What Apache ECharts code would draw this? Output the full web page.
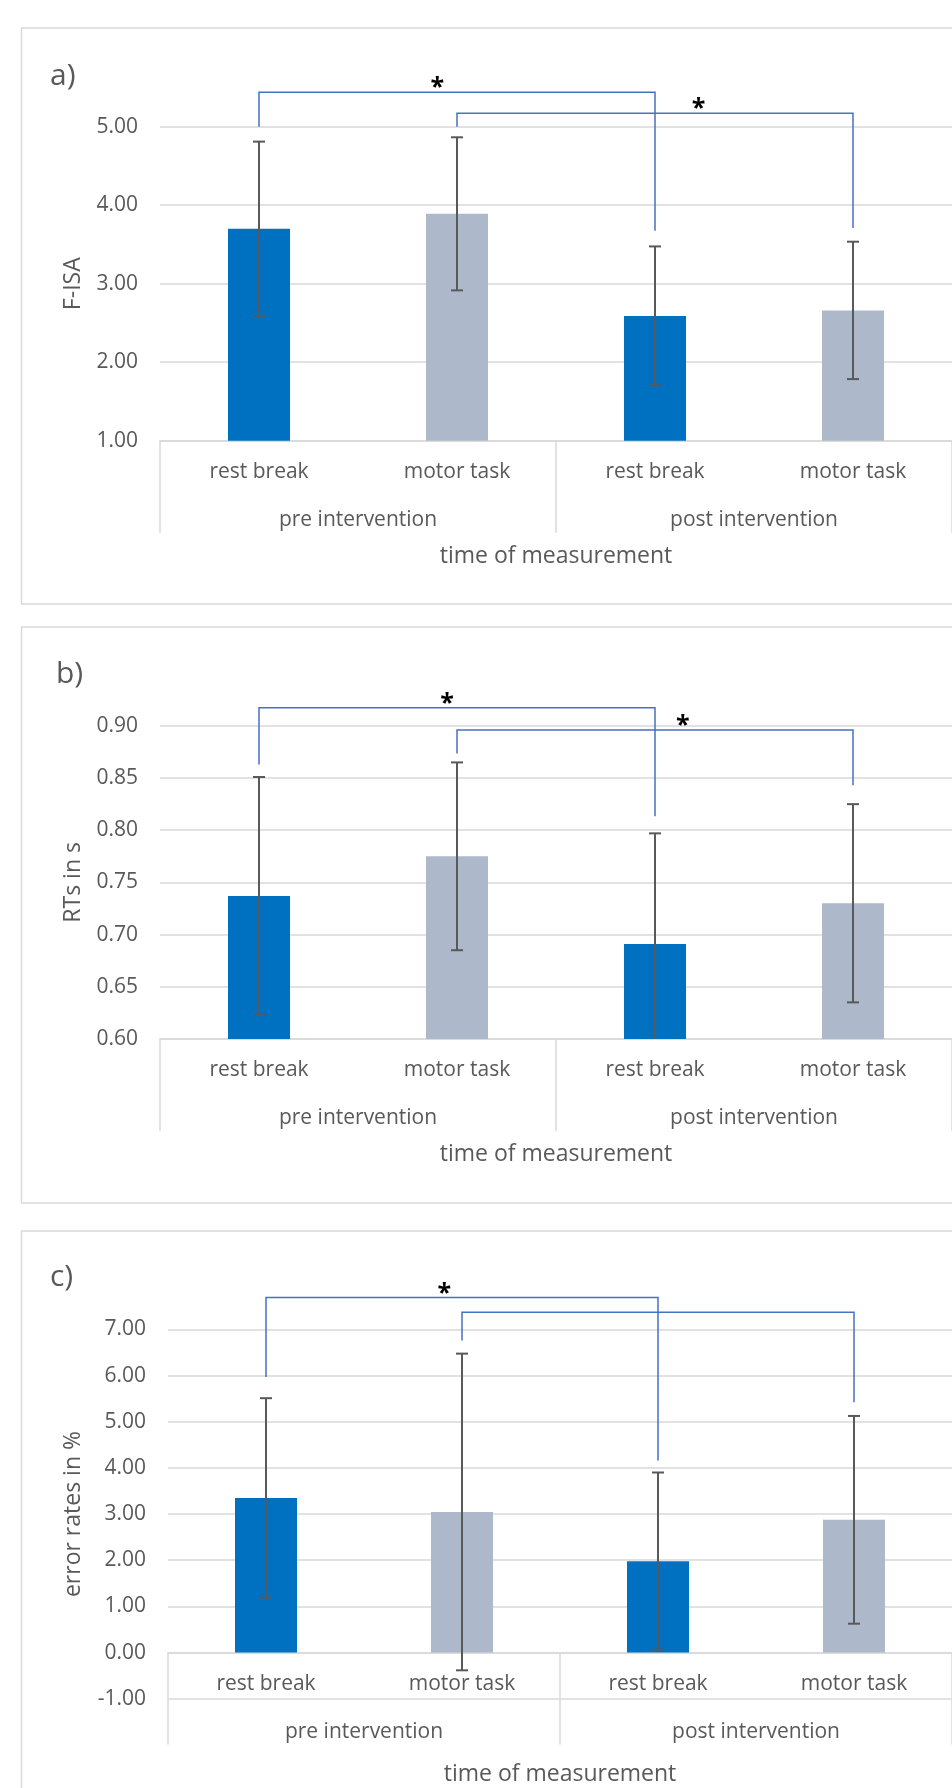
<!DOCTYPE html>
<html><head><meta charset="utf-8">
<script src="https://cdn.jsdelivr.net/npm/echarts@6/dist/echarts.min.js"></script>
<style>html,body{margin:0;padding:0;background:#fff}#c{width:952px;height:1788px}</style>
</head><body><div id="c"></div><script>
// ---- data ----
const categories = ['rest break', 'motor task', 'rest break', 'motor task'];
const groups = ['pre intervention', 'post intervention'];
const panelLabels = ['a)', 'b)', 'c)'];
const yTitles = ['F-ISA', 'RTs in s', 'error rates in %'];
const xTitle = 'time of measurement';

// a) F-ISA
const fisaMean = [3.70, 3.89, 2.59, 2.66];
const fisaSD = [1.11, 0.975, 0.885, 0.875];
const fisaTicks = [1, 5, 1];          // min, max, interval
// b) reaction times (s)
const rtMean = [0.737, 0.775, 0.691, 0.730];
const rtSD = [0.114, 0.090, 0.106, 0.095];
const rtTicks = [0.6, 0.9, 0.05];
// c) error rates (%)
const errMean = [3.35, 3.045, 1.98, 2.875];
const errSD = [2.16, 3.43, 1.92, 2.25];
const errTicks = [-1, 7, 1];

// significance brackets: [fromCat, toCat, bracketY, leftLegEnd, rightLegEnd, starCatPos, label]
const sigA = [[0, 2, 5.44, 5.0, 3.675, 0.9, '*'], [1, 3, 5.17, 5.0, 3.71, 2.22, '*']];
const sigB = [[0, 2, 0.9175, 0.863, 0.8135, 0.95, '*'], [1, 3, 0.896, 0.8735, 0.843, 2.14, '*']];
const sigC = [[0, 2, 7.69, 5.97, 4.16, 0.91, '*'], [1, 3, 7.37, 6.76, 5.42, 0, '']];

// ---- styles / layout ----
const FONT = 'Open Sans';
const TXT = '#595959';
const GRIDC = '#D9D9D9';
const barColors = ['#0070C0', '#ADB9CA', '#0070C0', '#ADB9CA'];
const panels = [
  {mean: fisaMean, sd: fisaSD, ticks: fisaTicks, sig: sigA, top: 126.7, height: 314, left: 160, box: [21.5, 28, 576], lab: [50, 60]},
  {mean: rtMean, sd: rtSD, ticks: rtTicks, sig: sigB, top: 725.9, height: 313, left: 160, box: [21.5, 627, 576], lab: [56, 658]},
  {mean: errMean, sd: errSD, ticks: errTicks, sig: sigC, top: 1329.4, height: 369.3, left: 168, box: [21.5, 1231, 620], lab: [50, 1261]}
];

const chart = echarts.init(document.getElementById('c'));
const grid = [], xAxis = [], yAxis = [], series = [], title = [], graphic = [];

panels.forEach((p, i) => {
  const [mn, mx, iv] = p.ticks;
  // category axis sits on the zero line when zero is within range
  const zeroFrac = (mn < 0 && mx > 0) ? (0 - mn) / (mx - mn) : 0;
  const off = -p.height * zeroFrac;
  const yNameGap = p.left - 73 - 13;

  grid.push({left: p.left, right: 0, top: p.top, height: p.height, containLabel: false, outerBoundsMode: 'none'});
  xAxis.push({
    type: 'category', gridIndex: i, data: categories, position: 'bottom', offset: off,
    axisLine: {onZero: false, lineStyle: {color: GRIDC, width: 1.5}},
    axisTick: {show: false},
    axisLabel: {interval: 0, margin: 20, fontSize: 21, lineHeight: 22, color: TXT, fontFamily: FONT},
    splitLine: {show: false}
  });
  xAxis.push({
    type: 'category', gridIndex: i, data: groups, position: 'bottom', offset: off,
    axisLine: {show: false, onZero: false},
    axisTick: {show: true, interval: 0, length: 92, lineStyle: {color: GRIDC, width: 1.5}},
    axisLabel: {interval: 0, margin: 68, fontSize: 21, lineHeight: 22, color: TXT, fontFamily: FONT},
    name: xTitle, nameLocation: 'middle', nameGap: i === 2 ? 110 : 104, nameMoveOverlap: false,
    nameTextStyle: {fontSize: 23, lineHeight: 24, color: TXT, fontFamily: FONT},
    splitLine: {show: false}
  });
  yAxis.push({
    type: 'value', gridIndex: i, min: mn, max: mx, interval: iv,
    axisLine: {show: false}, axisTick: {show: false},
    axisLabel: {margin: 22, fontSize: 21, color: TXT, fontFamily: FONT, formatter: v => v.toFixed(2)},
    splitLine: {lineStyle: {color: GRIDC, width: 1.5}},
    name: yTitles[i], nameLocation: 'middle', nameGap: yNameGap, nameRotate: 90, nameMoveOverlap: false,
    nameTextStyle: {fontSize: 23, lineHeight: 26, color: TXT, fontFamily: FONT}
  });

  series.push({
    type: 'bar', xAxisIndex: i * 2, yAxisIndex: i, barWidth: 62, z: 2,
    data: p.mean.map((v, k) => ({value: v, itemStyle: {color: barColors[k]}})),
    silent: true, animation: false
  });

  // error bars (mean ± SD)
  series.push({
    type: 'custom', xAxisIndex: i * 2, yAxisIndex: i, animation: false, silent: true, z: 5,
    data: p.mean.map((v, k) => [k, v - p.sd[k], v + p.sd[k]]),
    encode: {x: 0, y: [1, 2]},
    renderItem: (params, api) => {
      const cs = params.coordSys;
      const pHi = api.coord([api.value(0), api.value(2)]);
      const pLo = api.coord([api.value(0), api.value(1)]);
      const topB = cs.y, botB = cs.y + cs.height;
      const x = pHi[0];
      let y1 = pHi[1], y2 = pLo[1];
      const capTop = y1 >= topB, capBot = y2 <= botB;
      y1 = Math.max(y1, topB); y2 = Math.min(y2, botB);
      const st = {stroke: '#595959', lineWidth: 2};
      const ch = [{type: 'line', shape: {x1: x, y1: y1, x2: x, y2: y2}, style: st}];
      if (capTop) ch.push({type: 'line', shape: {x1: x - 6, y1: y1, x2: x + 6, y2: y1}, style: st});
      if (capBot) ch.push({type: 'line', shape: {x1: x - 6, y1: y2, x2: x + 6, y2: y2}, style: st});
      return {type: 'group', children: ch};
    }
  });

  // significance brackets
  const sig = p.sig;
  series.push({
    type: 'custom', xAxisIndex: i * 2, yAxisIndex: i, animation: false, silent: true, clip: false, z: 6,
    data: sig.map(s => s.slice(0, 6)),
    encode: {x: [0, 1], y: [2, 3, 4]},
    renderItem: (params, api) => {
      const s = sig[params.dataIndex];
      const a = api.coord([s[0], s[2]]);
      const b = api.coord([s[1], s[2]]);
      const aL = api.coord([s[0], s[3]]);
      const bR = api.coord([s[1], s[4]]);
      const ch = [{
        type: 'polyline',
        shape: {points: [[a[0], aL[1]], [a[0], a[1]], [b[0], b[1]], [b[0], bR[1]]]},
        style: {stroke: '#4472C4', lineWidth: 1.5, fill: null}
      }];
      if (s[6]) {
        // fractional category position: interpolate between neighbouring category centres
        const base = Math.floor(s[5]);
        const c0 = api.coord([base, s[2]]);
        const c1 = api.coord([base + 1, s[2]]);
        const sx = c0[0] + (s[5] - base) * (c1[0] - c0[0]);
        ch.push({type: 'text', style: {text: s[6], x: sx, y: a[1] - 4, align: 'center', verticalAlign: 'middle',
          fill: '#000', fontSize: 25, fontWeight: 'bold', fontFamily: FONT}});
      }
      return {type: 'group', children: ch};
    }
  });

  title.push({text: panelLabels[i], left: p.lab[0], top: p.lab[1], padding: 0,
    textStyle: {fontSize: 30, lineHeight: 32, fontWeight: 'normal', color: TXT, fontFamily: FONT}});
  graphic.push({type: 'rect', silent: true, z: -10,
    shape: {x: p.box[0], y: p.box[1], width: 1000, height: p.box[2]},
    style: {fill: 'none', stroke: GRIDC, lineWidth: 1.5}});
});

chart.setOption({
  animation: false,
  textStyle: {fontFamily: FONT},
  title, grid, xAxis, yAxis, series, graphic
});
</script></body></html>
